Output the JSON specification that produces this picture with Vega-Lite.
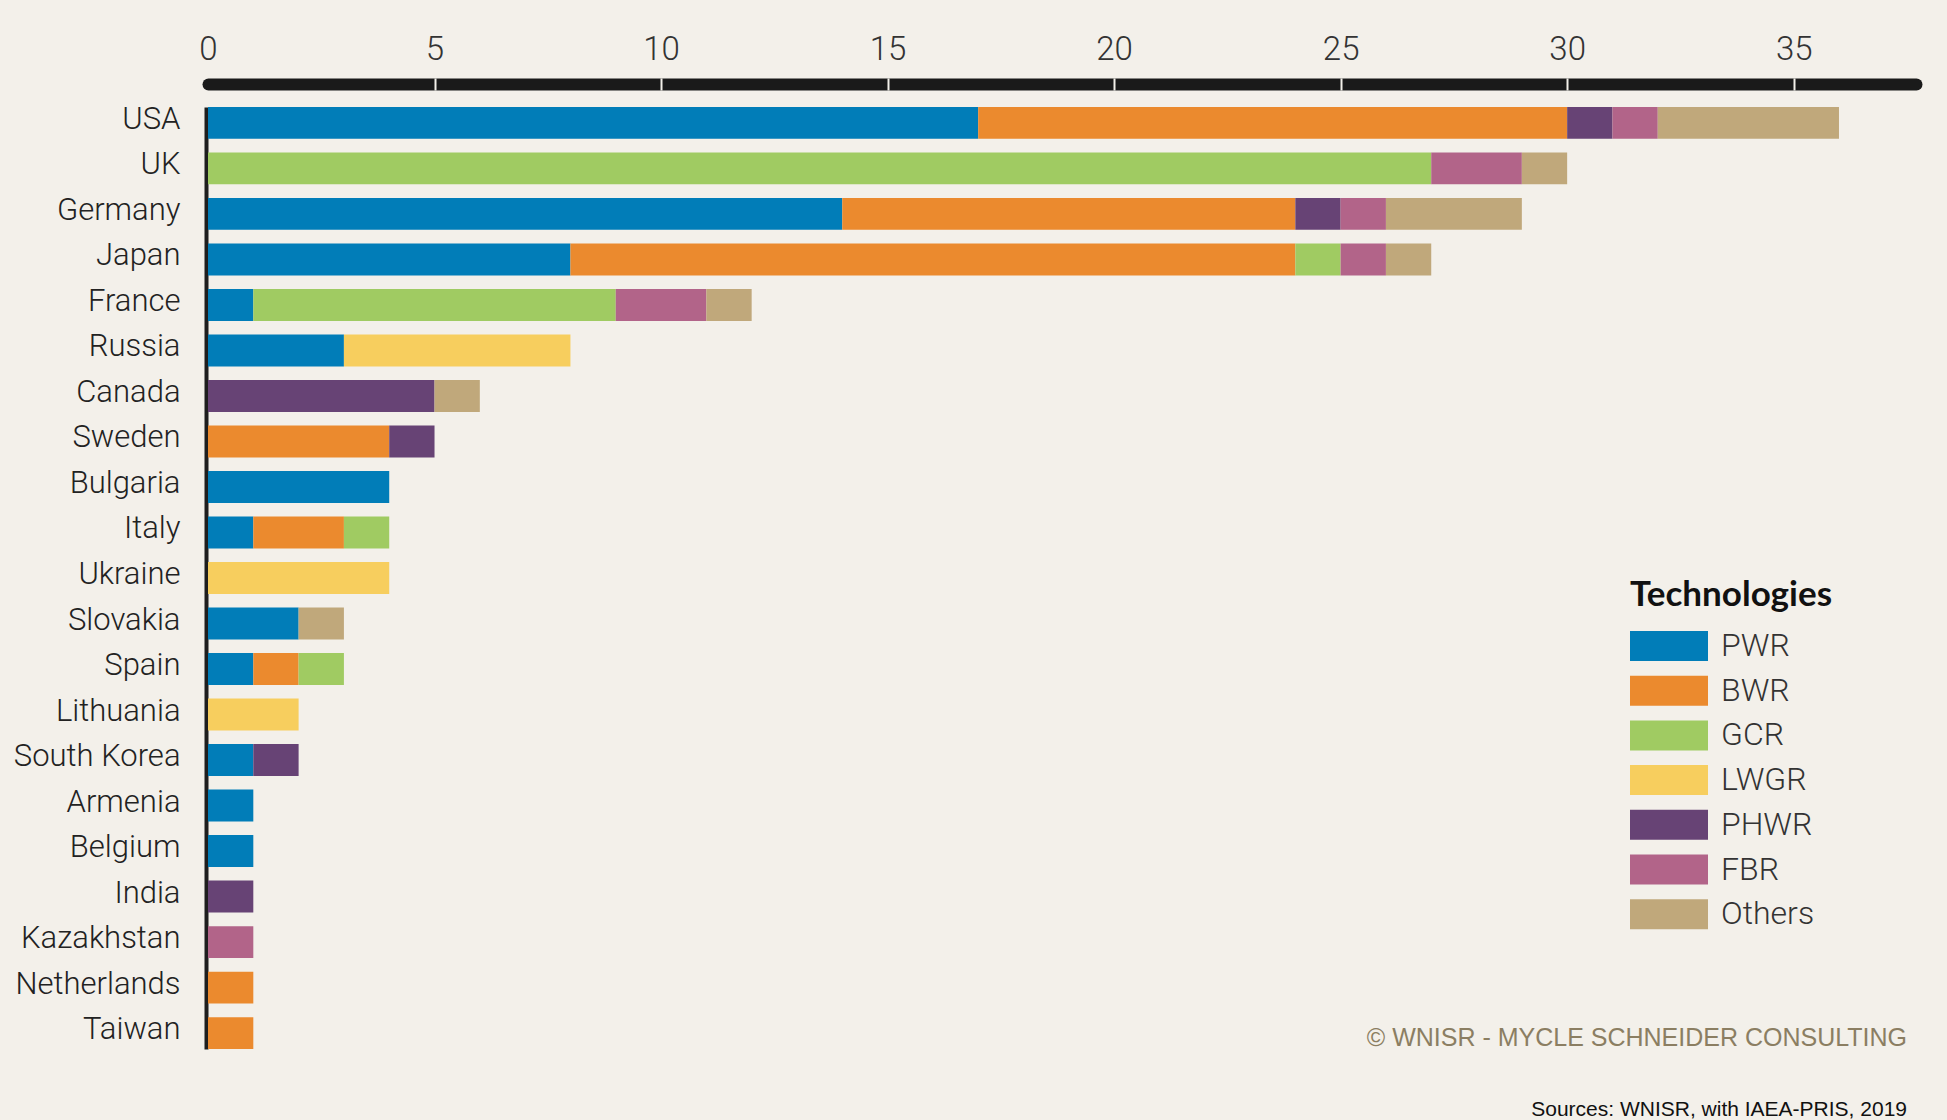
{
  "$schema": "https://vega.github.io/schema/vega-lite/v6.json",
  "width": 1708,
  "height": 942,
  "autosize": {"type": "none"},
  "padding": {"left": 208, "top": 107, "right": 31, "bottom": 71},
  "background": "#f3f0ea",
  "config": {"view": {"stroke": null}, "font": "Roboto"},
  "title": {
    "text": "© WNISR - MYCLE SCHNEIDER CONSULTING",
    "subtitle": "Sources: WNISR, with IAEA-PRIS, 2019",
    "orient": "bottom",
    "anchor": "end",
    "frame": "group",
    "offset": -23,
    "dx": -9,
    "font": "Liberation Sans",
    "fontSize": 25,
    "fontWeight": "normal",
    "color": "#8b7e62",
    "subtitleFont": "Liberation Sans",
    "subtitleFontSize": 21,
    "subtitleColor": "#111111",
    "subtitlePadding": 48
  },
  "data": {
    "values": [
      {"country": "USA", "tech": "PWR", "n": 17},
      {"country": "USA", "tech": "BWR", "n": 13},
      {"country": "USA", "tech": "PHWR", "n": 1},
      {"country": "USA", "tech": "FBR", "n": 1},
      {"country": "USA", "tech": "Others", "n": 4},
      {"country": "UK", "tech": "GCR", "n": 27},
      {"country": "UK", "tech": "FBR", "n": 2},
      {"country": "UK", "tech": "Others", "n": 1},
      {"country": "Germany", "tech": "PWR", "n": 14},
      {"country": "Germany", "tech": "BWR", "n": 10},
      {"country": "Germany", "tech": "PHWR", "n": 1},
      {"country": "Germany", "tech": "FBR", "n": 1},
      {"country": "Germany", "tech": "Others", "n": 3},
      {"country": "Japan", "tech": "PWR", "n": 8},
      {"country": "Japan", "tech": "BWR", "n": 16},
      {"country": "Japan", "tech": "GCR", "n": 1},
      {"country": "Japan", "tech": "FBR", "n": 1},
      {"country": "Japan", "tech": "Others", "n": 1},
      {"country": "France", "tech": "PWR", "n": 1},
      {"country": "France", "tech": "GCR", "n": 8},
      {"country": "France", "tech": "FBR", "n": 2},
      {"country": "France", "tech": "Others", "n": 1},
      {"country": "Russia", "tech": "PWR", "n": 3},
      {"country": "Russia", "tech": "LWGR", "n": 5},
      {"country": "Canada", "tech": "PHWR", "n": 5},
      {"country": "Canada", "tech": "Others", "n": 1},
      {"country": "Sweden", "tech": "BWR", "n": 4},
      {"country": "Sweden", "tech": "PHWR", "n": 1},
      {"country": "Bulgaria", "tech": "PWR", "n": 4},
      {"country": "Italy", "tech": "PWR", "n": 1},
      {"country": "Italy", "tech": "BWR", "n": 2},
      {"country": "Italy", "tech": "GCR", "n": 1},
      {"country": "Ukraine", "tech": "LWGR", "n": 4},
      {"country": "Slovakia", "tech": "PWR", "n": 2},
      {"country": "Slovakia", "tech": "Others", "n": 1},
      {"country": "Spain", "tech": "PWR", "n": 1},
      {"country": "Spain", "tech": "BWR", "n": 1},
      {"country": "Spain", "tech": "GCR", "n": 1},
      {"country": "Lithuania", "tech": "LWGR", "n": 2},
      {"country": "South Korea", "tech": "PWR", "n": 1},
      {"country": "South Korea", "tech": "PHWR", "n": 1},
      {"country": "Armenia", "tech": "PWR", "n": 1},
      {"country": "Belgium", "tech": "PWR", "n": 1},
      {"country": "India", "tech": "PHWR", "n": 1},
      {"country": "Kazakhstan", "tech": "FBR", "n": 1},
      {"country": "Netherlands", "tech": "BWR", "n": 1},
      {"country": "Taiwan", "tech": "BWR", "n": 1}
    ]
  },
  "transform": [
    {"calculate": "indexof(['PWR','BWR','GCR','LWGR','PHWR','FBR','Others'], datum.tech)", "as": "ord"}
  ],
  "encoding": {
    "y": {
      "field": "country",
      "type": "nominal",
      "sort": ["USA", "UK", "Germany", "Japan", "France", "Russia", "Canada", "Sweden", "Bulgaria", "Italy", "Ukraine", "Slovakia", "Spain", "Lithuania", "South Korea", "Armenia", "Belgium", "India", "Kazakhstan", "Netherlands", "Taiwan"],
      "scale": {"paddingInner": 0.3, "paddingOuter": 0},
      "axis": {
        "title": null,
        "orient": "left",
        "offset": 2,
        "domain": true,
        "domainColor": "#1e1e1e",
        "domainWidth": 4,
        "ticks": false,
        "labelPadding": 26,
        "labelOffset": -3,
        "labelFont": "Roboto",
        "labelFontWeight": 300,
        "labelFontSize": 31,
        "labelColor": "#222222",
        "labelLimit": 300
      }
    },
    "color": {
      "field": "tech",
      "type": "nominal",
      "scale": {
        "domain": ["PWR", "BWR", "GCR", "LWGR", "PHWR", "FBR", "Others"],
        "range": ["#017db8", "#eb8a2e", "#a0cb62", "#f7ce5e", "#674375", "#b26489", "#c0a87b"]
      },
      "legend": {
        "title": "Technologies",
        "orient": "none",
        "direction": "vertical",
        "legendX": 1422,
        "legendY": 471,
        "titleFont": "Lato",
        "titleFontSize": 35,
        "titleFontWeight": "bold",
        "titleColor": "#111111",
        "titleLimit": 400,
        "titlePadding": 17,
        "symbolType": "M-2.6,-1H2.6V1H-2.6Z",
        "symbolSize": 900,
        "symbolStrokeWidth": 0,
        "symbolOpacity": 1,
        "symbolOffset": 23,
        "labelOffset": 36,
        "labelFont": "Roboto",
        "labelFontWeight": 300,
        "labelFontSize": 32,
        "labelColor": "#333333",
        "rowPadding": 12.7
      }
    },
    "order": {"field": "ord", "type": "quantitative"}
  },
  "layer": [
    {
      "mark": {"type": "bar"},
      "encoding": {
        "x": {
          "field": "n",
          "type": "quantitative",
          "stack": "zero",
          "scale": {"domain": [0, 37.7], "nice": false},
          "axis": {
            "title": null,
            "orient": "top",
            "offset": 23,
            "values": [0, 5, 10, 15, 20, 25, 30, 35],
            "grid": false,
            "domainColor": "#1a1a1a",
            "domainWidth": 12,
            "domainCap": "round",
            "ticks": true,
            "tickOpacity": 0,
            "tickSize": 6,
            "labelPadding": 12,
            "labelFlush": false,
            "labelFont": "Roboto",
            "labelFontWeight": 300,
            "labelFontSize": 33,
            "labelColor": "#333333"
          }
        }
      }
    },
    {
      "mark": {"type": "bar", "opacity": 0},
      "encoding": {
        "x": {
          "field": "n",
          "type": "quantitative",
          "stack": "zero",
          "scale": {"domain": [0, 37.7], "nice": false},
          "axis": {
            "title": null,
            "orient": "top",
            "offset": 17,
            "values": [5, 10, 15, 20, 25, 30, 35],
            "grid": false,
            "domain": false,
            "labels": false,
            "ticks": true,
            "tickColor": "#f3f0ea",
            "tickWidth": 2,
            "tickSize": 12,
            "zindex": 1
          }
        }
      }
    }
  ],
  "resolve": {"scale": {"x": "independent"}}
}
